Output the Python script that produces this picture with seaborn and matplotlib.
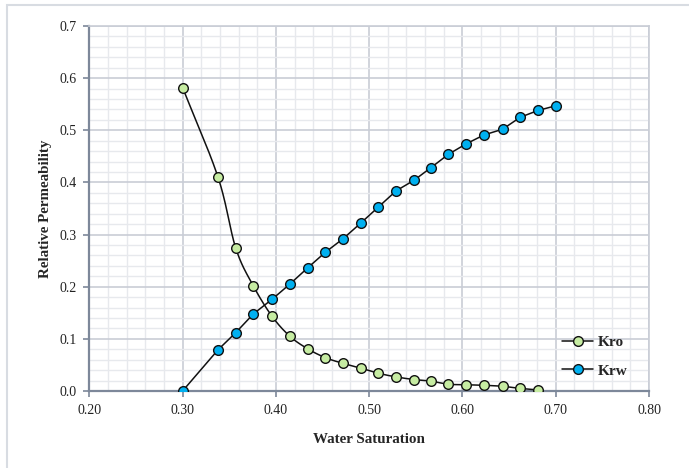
import numpy as np
import pandas as pd
import matplotlib
matplotlib.use("Agg")
import matplotlib.pyplot as plt
from matplotlib.lines import Line2D
from matplotlib.patches import Rectangle
from matplotlib.ticker import MultipleLocator, FormatStrFormatter
import seaborn as sns

# Relative permeability table
sw_krw = [0.300, 0.338, 0.357, 0.376, 0.396, 0.415, 0.434, 0.453, 0.472, 0.491, 0.510,
          0.529, 0.548, 0.566, 0.585, 0.604, 0.623, 0.643, 0.662, 0.681, 0.700]
krw = [0.000, 0.079, 0.112, 0.148, 0.176, 0.205, 0.236, 0.266, 0.292, 0.322, 0.353,
       0.384, 0.404, 0.428, 0.454, 0.474, 0.491, 0.502, 0.525, 0.538, 0.547]
sw_kro = [0.300, 0.338, 0.357, 0.376, 0.396, 0.415, 0.434, 0.453, 0.472, 0.491,
          0.510, 0.529, 0.548, 0.566, 0.585, 0.604, 0.623, 0.643, 0.662, 0.681]
kro = [0.582, 0.410, 0.274, 0.201, 0.143, 0.105, 0.081, 0.064, 0.053, 0.044,
       0.034, 0.027, 0.022, 0.019, 0.013, 0.012, 0.011, 0.009, 0.005, 0.002]

x_ticks = [0.20, 0.30, 0.40, 0.50, 0.60, 0.70, 0.80]
y_ticks = [0.0, 0.1, 0.2, 0.3, 0.4, 0.5, 0.6, 0.7]

GREEN = "#c6eca2"
BLUE = "#00b0f0"
EDGE = "#111111"
MAJOR = "#c9cdd6"
MINOR = "#e7e9ed"
SPINE = "#7d889a"


def smooth_curve(x, y, n=24):
    """Catmull-Rom style smoothing through every point."""
    x = np.asarray(x, float)
    y = np.asarray(y, float)
    px = np.concatenate([[2 * x[0] - x[1]], x, [2 * x[-1] - x[-2]]])
    py = np.concatenate([[2 * y[0] - y[1]], y, [2 * y[-1] - y[-2]]])
    xs, ys = [], []
    t = np.linspace(0, 1, n, endpoint=False)
    for i in range(1, len(px) - 2):
        p0, p1, p2, p3 = (np.array([px[j], py[j]]) for j in range(i - 1, i + 3))
        c1 = p1 + (p2 - p0) / 6.0
        c2 = p2 - (p3 - p1) / 6.0
        b = ((1 - t) ** 3)[:, None] * p1 + (3 * (1 - t) ** 2 * t)[:, None] * c1 \
            + (3 * (1 - t) * t ** 2)[:, None] * c2 + (t ** 3)[:, None] * p2
        xs.extend(b[:, 0]); ys.extend(b[:, 1])
    xs.append(x[-1]); ys.append(y[-1])
    return np.array(xs), np.array(ys)


sns.set_theme(style="white")
plt.rcParams["font.family"] = ["Liberation Serif", "DejaVu Serif"]

fig = plt.figure(figsize=(6.89, 4.68), dpi=100)
fig.patch.set_facecolor("white")
fig.patches.append(Rectangle((7 / 689, -0.1), 1.2, 1 - 5 / 468 + 0.1,
                             transform=fig.transFigure, fill=False,
                             edgecolor="#d8dce2", linewidth=1.5))

ax = fig.add_axes([89.3 / 689, 1 - 391 / 468, (649 - 89.3) / 689, (391 - 26) / 468])

df_w = pd.DataFrame({"Sw": sw_krw, "Kr": krw})
df_o = pd.DataFrame({"Sw": sw_kro, "Kr": kro})

sx, sy = smooth_curve(sw_kro, kro)
ax.plot(sx, sy, color=EDGE, lw=1.1, zorder=3)
sns.scatterplot(data=df_o, x="Sw", y="Kr", ax=ax, color=GREEN, edgecolor=EDGE,
                linewidth=1.0, s=48, zorder=4, legend=False)

sns.lineplot(data=df_w, x="Sw", y="Kr", ax=ax, color=EDGE, lw=1.1, zorder=3,
             marker="o", markersize=7, markerfacecolor=BLUE, markeredgecolor=EDGE,
             markeredgewidth=1.0, legend=False)

ax.set_xlim(0.2, 0.8)
ax.set_ylim(0.0, 0.7)
ax.xaxis.set_major_locator(MultipleLocator(0.1))
ax.xaxis.set_minor_locator(MultipleLocator(0.02))
ax.yaxis.set_major_locator(MultipleLocator(0.1))
ax.yaxis.set_minor_locator(MultipleLocator(0.02))
ax.set_xticks(x_ticks)
ax.set_yticks(y_ticks)
ax.xaxis.set_major_formatter(FormatStrFormatter("%.2f"))
ax.yaxis.set_major_formatter(FormatStrFormatter("%.1f"))

ax.grid(which="major", color=MAJOR, lw=1.2, zorder=1)
ax.grid(which="minor", color=MINOR, lw=1.0, zorder=0)
ax.set_axisbelow(True)

for side in ("left", "bottom"):
    ax.spines[side].set_color(SPINE)
    ax.spines[side].set_linewidth(1.6)
for side in ("top", "right"):
    ax.spines[side].set_color(MAJOR)
    ax.spines[side].set_linewidth(1.2)

ax.tick_params(which="major", direction="out", length=4, width=1.2, color=SPINE,
               labelsize=10, labelcolor="#222222", pad=5, bottom=True, left=True)
ax.tick_params(which="minor", length=0)

ax.set_xlabel("Water Saturation", fontsize=10.8, fontweight="bold", labelpad=12)
ax.set_ylabel("Relative Permeability", fontsize=10.8, fontweight="bold", labelpad=5.5)

handles = [
    Line2D([0], [0], color=EDGE, lw=1.1, marker="o", markersize=7,
           markerfacecolor=GREEN, markeredgecolor=EDGE, markeredgewidth=1.0),
    Line2D([0], [0], color=EDGE, lw=1.1, marker="o", markersize=7,
           markerfacecolor=BLUE, markeredgecolor=EDGE, markeredgewidth=1.0),
]
ax.legend(handles, ["Kro", "Krw"], loc="center left",
          bbox_to_anchor=((562 - 89.3) / 559.7, (391 - 356.5) / 365),
          frameon=False, borderpad=0, borderaxespad=0, handlelength=2.05,
          handletextpad=0.3, labelspacing=1.0,
          prop={"family": "Liberation Serif", "weight": "bold", "size": 11})

fig.savefig("out.png", dpi=100, facecolor="white")
